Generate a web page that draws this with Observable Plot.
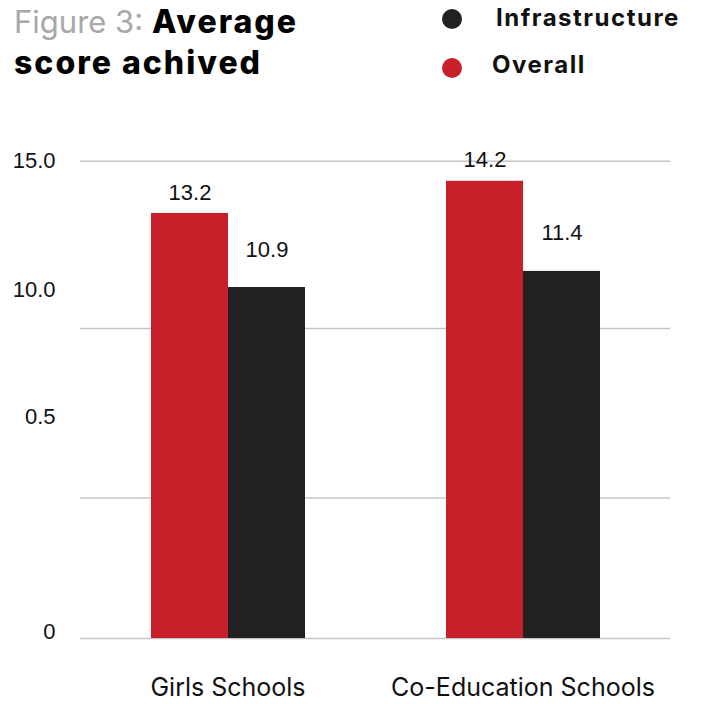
<!DOCTYPE html>
<html><head><meta charset="utf-8">
<script src="https://cdn.jsdelivr.net/npm/d3@7"></script>
<script src="https://cdn.jsdelivr.net/npm/@observablehq/plot@0.6"></script>
<style>
body{margin:0;background:#fff;width:702px;height:704px;overflow:hidden}
#head{position:relative;height:100px;width:702px;font-family:Inter,"Open Sans",sans-serif}
.t{position:absolute;left:14px;font-size:32px;font-weight:800;color:#000;line-height:1;white-space:nowrap;letter-spacing:2px}
.t .g{color:#a8a8a8;font-weight:400;font-size:31px;letter-spacing:0}
.lg{position:absolute;font-size:24px;font-weight:700;color:#111;line-height:1;white-space:nowrap;letter-spacing:1.5px}
.dot{position:absolute;width:20px;height:20px;border-radius:50%}
</style></head>
<body>
<div id="head">
  <div class="t" style="top:6px"><span class="g">Figure 3: </span>Average</div>
  <div class="t" style="top:47px">score achived</div>
  <div class="dot" style="left:442px;top:9px;background:#222020"></div>
  <div class="lg" style="left:496px;top:6px">Infrastructure</div>
  <div class="dot" style="left:442px;top:58px;background:#c8202a"></div>
  <div class="lg" style="left:492px;top:53px">Overall</div>
</div>
<div id="chart"></div>
<script>
const categories = ["Girls Schools", "Co-Education Schools"];
const series = ["Overall", "Infrastructure"];
const overall = [13.2, 14.2];
const infrastructure = [10.9, 11.4];
const gridValues = [0, 4.36, 9.63, 14.82];
const tickPositions = [14.84, 10.81, 6.88, 0.2];
const tickLabels = ["15.0", "10.0", "0.5", "0"];
const colors = ["#c8202a", "#222020"];

const data = [];
categories.forEach((c, i) => {
  data.push({category: c, series: "Overall", value: overall[i]});
  data.push({category: c, series: "Infrastructure", value: infrastructure[i]});
});

const numFont = "'Liberation Sans', Arial, sans-serif";
const chart = Plot.plot({
  width: 702, height: 604,
  marginTop: 55, marginLeft: 80, marginRight: 32, marginBottom: 66,
  style: {fontFamily: numFont, fontSize: "22px", color: "#111", background: "#fff"},
  fx: {domain: categories, padding: 0, label: null, axis: null},
  x: {domain: series, paddingInner: 0, paddingOuter: 0.903, axis: null},
  y: {domain: [0, 15], axis: null},
  color: {domain: series, range: colors},
  marks: [
    Plot.ruleY(gridValues, {stroke: "#c4c4c4", strokeWidth: 1.5}),
    Plot.axisY({ticks: tickPositions, tickFormat: d => tickLabels[tickPositions.indexOf(d)], tickSize: 0, tickPadding: 25, fontSize: 22, label: null}),
    Plot.barY(data, {fx: "category", x: "series", y: "value", fill: "series"}),
    Plot.text(data.filter(d => d.series === "Overall"), {fx: "category", x: "series", y: "value", text: d => d.value.toFixed(1), dy: -21, fontSize: 22, fill: "#111"}),
    Plot.text(data.filter(d => d.series === "Infrastructure"), {fx: "category", x: "series", y: "value", text: d => d.value.toFixed(1), dy: -38, fontSize: 22, fill: "#111"}),
    Plot.axisFx({anchor: "bottom", tickSize: 0, tickPadding: 40, fontSize: 25, fontFamily: "Inter, 'Open Sans', sans-serif", letterSpacing: "1.1px", label: null})
  ]
});
document.getElementById("chart").appendChild(chart);
</script>
</body></html>
